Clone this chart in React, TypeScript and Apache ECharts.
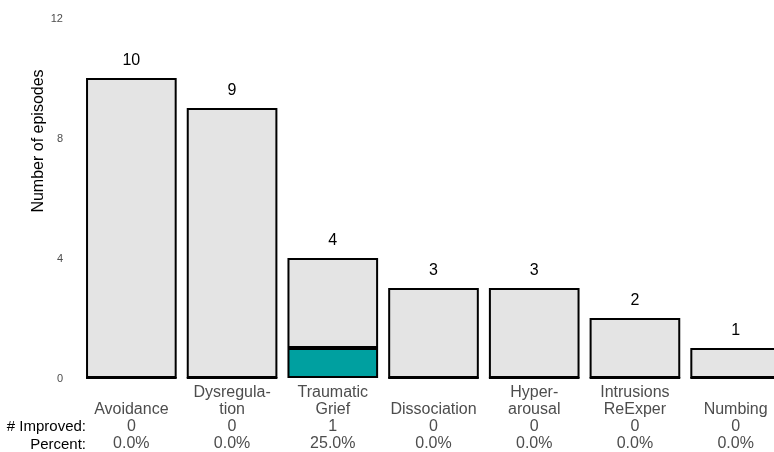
import React, { useEffect, useRef } from "react";
import * as echarts from "echarts";

const categories = [
  "Avoidance",
  "Dysregula-\ntion",
  "Traumatic\nGrief",
  "Dissociation",
  "Hyper-\narousal",
  "Intrusions\nReExper",
  "Numbing",
];
const totals = [10, 9, 4, 3, 3, 2, 1];
const improved = [0, 0, 1, 0, 0, 0, 0];
const percents = ["0.0%", "0.0%", "25.0%", "0.0%", "0.0%", "0.0%", "0.0%"];
const yTicks = [0, 4, 8, 12];

const FONT = "'Liberation Sans', Arial, sans-serif";

export default function App() {
  const ref = useRef<HTMLDivElement>(null);
  useEffect(() => {
    if (!ref.current) return;
    const chart = echarts.init(ref.current, undefined, { renderer: "svg" });
    const rest = totals.map((t, i) => t - improved[i]);
    chart.setOption({
      animation: false,
      textStyle: { fontFamily: FONT },
      grid: {
        left: 81,
        top: 18,
        bottom: 74,
        width: 705,
        outerBoundsMode: "none",
        containLabel: false,
      },
      xAxis: {
        type: "category",
        data: categories,
        axisLine: { show: false },
        axisTick: { show: false },
        axisLabel: {
          interval: 0,
          margin: 5,
          fontSize: 16,
          lineHeight: 17,
          color: "#4d4d4d",
          fontFamily: FONT,
          formatter: (v: string, i: number) => {
            const name = v.includes("\n") ? v : "\n" + v;
            return name + "\n" + improved[i] + "\n" + percents[i];
          },
        },
      },
      yAxis: {
        type: "value",
        min: yTicks[0],
        max: yTicks[yTicks.length - 1],
        interval: 4,
        axisLine: { show: false },
        axisTick: { show: false },
        splitLine: { show: false },
        axisLabel: { fontSize: 11, color: "#4d4d4d", margin: 18, fontFamily: FONT },
      },
      series: [
        {
          type: "bar",
          stack: "s",
          data: improved,
          barCategoryGap: "10%",
          itemStyle: { color: "#00A0A0", borderColor: "#000", borderWidth: 2 },
        },
        {
          type: "bar",
          stack: "s",
          data: rest,
          barCategoryGap: "10%",
          itemStyle: { color: "#E4E4E4", borderColor: "#000", borderWidth: 2 },
          label: {
            show: true,
            position: "top",
            distance: 11,
            fontSize: 16,
            color: "#000",
            fontFamily: FONT,
            formatter: (p: any) => String(totals[p.dataIndex]),
          },
        },
      ],
      graphic: [
        {
          type: "text",
          x: 37,
          y: 141,
          rotation: Math.PI / 2,
          style: {
            text: "Number of episodes",
            fill: "#000",
            font: `16px ${FONT}`,
            textAlign: "center",
            textVerticalAlign: "middle",
          },
        },
        {
          type: "text",
          x: 86,
          y: 425.5,
          style: {
            text: "# Improved:",
            fill: "#000",
            font: `15px ${FONT}`,
            textAlign: "right",
            textVerticalAlign: "middle",
          },
        },
        {
          type: "text",
          x: 86,
          y: 443,
          style: {
            text: "Percent:",
            fill: "#000",
            font: `15px ${FONT}`,
            textAlign: "right",
            textVerticalAlign: "middle",
          },
        },
      ],
    });
    return () => chart.dispose();
  }, []);
  return (
    <div
      ref={ref}
      style={{ position: "fixed", left: 0, top: 0, width: 774, height: 452 }}
    />
  );
}
